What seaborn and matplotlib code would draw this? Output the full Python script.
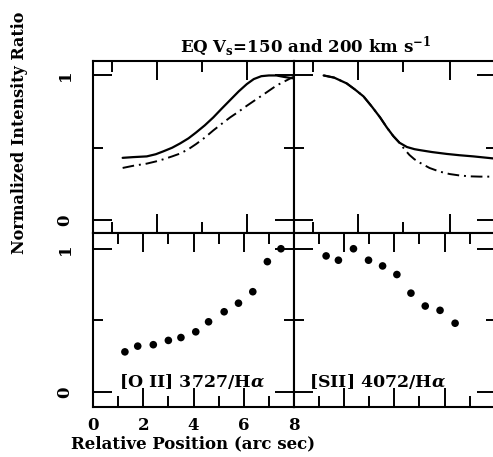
import numpy as np
import pandas as pd
import seaborn as sns
import matplotlib.pyplot as plt
from matplotlib.ticker import FixedLocator

# Top panels: model curves (solid / dash-dot)
tl_solid_x = [1.18, 1.6, 2.14, 2.5, 2.8, 3.15, 3.47, 3.8, 4.1, 4.45, 4.79, 5.12, 5.46,
              5.8, 6.12, 6.4, 6.7, 7.0, 7.3, 7.6, 7.97]
tl_solid_y = [0.43, 0.435, 0.44, 0.455, 0.475, 0.5, 0.53, 0.565, 0.605, 0.655, 0.71, 0.77,
              0.83, 0.89, 0.94, 0.975, 0.995, 1.0, 1.0, 0.99, 0.98]
tl_dash_x = [1.18, 1.6, 2.14, 2.5, 2.8, 3.15, 3.47, 3.8, 4.1, 4.45, 4.79, 5.12, 5.46,
             5.8, 6.12, 6.5, 6.8, 7.3, 7.97]
tl_dash_y = [0.36, 0.375, 0.39, 0.405, 0.42, 0.44, 0.46, 0.49, 0.525, 0.57, 0.62, 0.665,
             0.71, 0.75, 0.79, 0.835, 0.87, 0.93, 0.99]

tr_solid_x = [9.18, 9.6, 10.1, 10.45, 10.77, 11.1, 11.43, 11.7, 11.96, 12.2, 12.5, 12.8,
              13.03, 13.5, 14.09, 14.6, 15.15, 15.6, 16.0]
tr_solid_y = [1.0, 0.985, 0.945, 0.9, 0.855, 0.785, 0.71, 0.64, 0.58, 0.535, 0.505, 0.49,
              0.483, 0.47, 0.457, 0.448, 0.44, 0.432, 0.425]
tr_dash_x = [9.18, 9.6, 10.1, 10.45, 10.77, 11.1, 11.43, 11.7, 11.96, 12.2, 12.4, 12.6,
             12.8, 13.03, 13.4, 13.8, 14.2, 14.6, 15.0, 15.4, 16.0]
tr_dash_y = [1.0, 0.985, 0.945, 0.9, 0.855, 0.785, 0.71, 0.64, 0.58, 0.535, 0.49, 0.45,
             0.42, 0.395, 0.36, 0.335, 0.318, 0.308, 0.302, 0.30, 0.30]

# Bottom panels: observed ratios
oii_x = [1.27, 1.78, 2.40, 3.0, 3.5, 4.09, 4.6, 5.22, 5.79, 6.36, 6.94, 7.48]
oii_y = [0.28, 0.32, 0.33, 0.36, 0.38, 0.42, 0.49, 0.56, 0.62, 0.70, 0.91, 1.0]
sii_x = [9.28, 9.77, 10.37, 10.97, 11.53, 12.1, 12.66, 13.23, 13.82, 14.42]
sii_y = [0.95, 0.92, 1.0, 0.92, 0.88, 0.82, 0.69, 0.60, 0.57, 0.48]

sns.set_style("ticks")
plt.rcParams['font.family'] = ['DejaVu Serif']
plt.rcParams['font.weight'] = 'bold'
plt.rcParams['mathtext.fontset'] = 'dejavuserif'
plt.rcParams['mathtext.default'] = 'bf'
for k in ('text.color', 'axes.labelcolor', 'xtick.color', 'ytick.color', 'axes.edgecolor'):
    plt.rcParams[k] = 'black'

W, H = 493, 457
fig = plt.figure(figsize=(W / 100, H / 100), dpi=100)


def ax_at(x0, y0, x1, y1):
    return fig.add_axes([x0 / W, 1 - y1 / H, (x1 - x0) / W, (y1 - y0) / H])


ax_tl = ax_at(93, 61, 294, 233)
ax_tr = ax_at(294, 61, 496, 233)
ax_bl = ax_at(93, 233, 294, 407)
ax_br = ax_at(294, 233, 496, 407)

dashdot = (0, (6, 2.5, 1, 2.5))
for ax, sx, sy, dx, dy in [(ax_tl, tl_solid_x, tl_solid_y, tl_dash_x, tl_dash_y),
                           (ax_tr, tr_solid_x, tr_solid_y, tr_dash_x, tr_dash_y)]:
    sns.lineplot(x=sx, y=sy, ax=ax, color='black', lw=1.6, sort=False)
    sns.lineplot(x=dx, y=dy, ax=ax, color='black', lw=1.4, sort=False,
                 linestyle=dashdot)

sns.scatterplot(x=oii_x, y=oii_y, ax=ax_bl, color='black', s=30, edgecolor='none')
sns.scatterplot(x=sii_x, y=sii_y, ax=ax_br, color='black', s=30, edgecolor='none')

ax_tl.set_xlim(0, 8)
ax_bl.set_xlim(0, 8)
ax_tr.set_xlim(8, 16.05)
ax_br.set_xlim(8, 16.05)
for ax in (ax_tl, ax_tr):
    ax.set_ylim(-0.09, 1.1)
for ax in (ax_bl, ax_br):
    ax.set_ylim(-0.105, 1.11)

ax_tl.xaxis.set_major_locator(FixedLocator([2.55, 6.14]))
ax_tl.xaxis.set_minor_locator(FixedLocator([0.76, 4.34]))
ax_tr.xaxis.set_major_locator(FixedLocator([10.56, 14.2]))
ax_tr.xaxis.set_minor_locator(FixedLocator([8.76, 12.35]))
ax_bl.xaxis.set_major_locator(FixedLocator([0, 2, 4, 6, 8]))
ax_bl.xaxis.set_minor_locator(FixedLocator([1, 3, 5, 7]))
ax_br.xaxis.set_major_locator(FixedLocator([10, 12, 14, 16]))
ax_br.xaxis.set_minor_locator(FixedLocator([9, 11, 13, 15]))

for ax in (ax_tl, ax_tr, ax_bl, ax_br):
    ax.yaxis.set_major_locator(FixedLocator([0, 1]))
    ax.yaxis.set_minor_locator(FixedLocator([0.5]))
    ax.tick_params(which='both', direction='in', top=True, right=True,
                   labelleft=False, labelbottom=False, width=1.4, color='black')
    ax.tick_params(axis='x', which='major', length=14)
    ax.tick_params(axis='x', which='minor', length=8)
    ax.tick_params(axis='y', which='major', length=14)
    ax.tick_params(axis='y', which='minor', length=7)
    for sp in ax.spines.values():
        sp.set_linewidth(1.5)
        sp.set_color('black')
    ax.set_xlabel('')
    ax.set_ylabel('')

for ax in (ax_tl, ax_bl):
    ax.tick_params(axis='y', which='major', labelleft=True, pad=14, labelsize=12)
    ax.set_yticklabels(['0', '1'], rotation=90, va='center')

ax_bl.tick_params(axis='x', which='major', labelbottom=True, pad=7, labelsize=12)
ax_bl.set_xticklabels(['0', '2', '4', '6', '8'])
ax_bl.set_xlabel('Relative Position (arc sec)', fontsize=12, fontweight='bold', labelpad=1)

ax_bl.text(1.05, 0.075, r'[O II] 3727/H$\mathit{\alpha}$', fontsize=12.5,
           fontweight='bold', va='center', ha='left')
ax_br.text(8.6, 0.075, r'[SII] 4072/H$\mathit{\alpha}$', fontsize=12.5,
           fontweight='bold', va='center', ha='left')

fig.text(306 / W, 1 - 47 / H, r'EQ V$_s$=150 and 200 km s$^{-1}$', fontsize=12,
         fontweight='bold', ha='center', va='center')
fig.text(20 / W, 1 - 133 / H, 'Normalized Intensity Ratio', fontsize=11.5,
         fontweight='bold', rotation=90, ha='center', va='center')

fig.savefig('out.png', dpi=100)
